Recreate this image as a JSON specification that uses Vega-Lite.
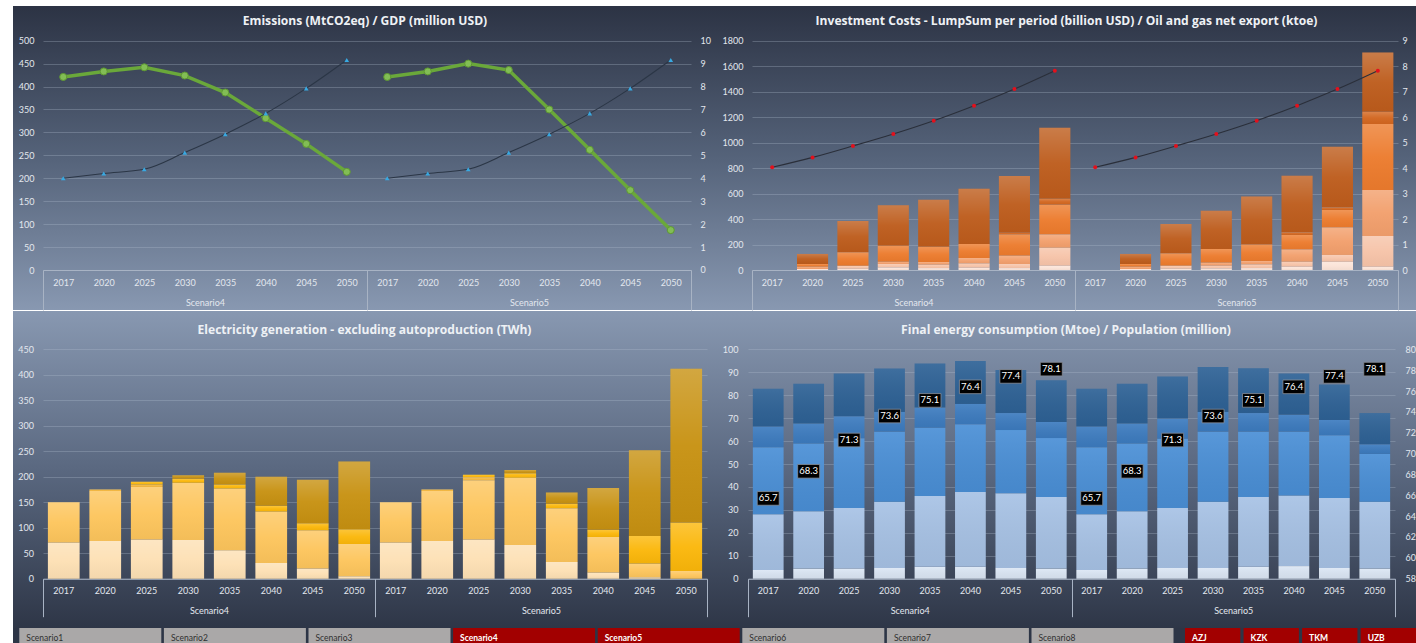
{
  "$schema": "https://vega.github.io/schema/vega-lite/v6.json",
  "background": "#ffffff",
  "padding": {"left": 13, "top": 6, "right": 0, "bottom": 0},
  "spacing": 0,
  "resolve": {"scale": {"color": "independent"}},
  "config": {
    "font": "Lato",
    "view": {"stroke": null},
    "axis": {"labelFont": "Lato", "labelFontSize": 9, "labelColor": "#e3e7ee", "title": null},
    "title": {"font": "Open Sans", "fontSize": 12.1, "fontWeight": "bold", "color": "#eef1f5"}
  },
  "datasets": {
    "emis": [
      {"k": "S4-2017", "s": "Scenario4", "em": 421, "gdp": 4.0},
      {"k": "S4-2020", "s": "Scenario4", "em": 433, "gdp": 4.21},
      {"k": "S4-2025", "s": "Scenario4", "em": 442, "gdp": 4.39},
      {"k": "S4-2030", "s": "Scenario4", "em": 424, "gdp": 5.12},
      {"k": "S4-2035", "s": "Scenario4", "em": 387, "gdp": 5.92},
      {"k": "S4-2040", "s": "Scenario4", "em": 331, "gdp": 6.83},
      {"k": "S4-2045", "s": "Scenario4", "em": 275, "gdp": 7.92},
      {"k": "S4-2050", "s": "Scenario4", "em": 214, "gdp": 9.16},
      {"k": "S5-2017", "s": "Scenario5", "em": 421, "gdp": 4.0},
      {"k": "S5-2020", "s": "Scenario5", "em": 433, "gdp": 4.21},
      {"k": "S5-2025", "s": "Scenario5", "em": 450, "gdp": 4.39},
      {"k": "S5-2030", "s": "Scenario5", "em": 436, "gdp": 5.12},
      {"k": "S5-2035", "s": "Scenario5", "em": 350, "gdp": 5.92},
      {"k": "S5-2040", "s": "Scenario5", "em": 262, "gdp": 6.83},
      {"k": "S5-2045", "s": "Scenario5", "em": 174, "gdp": 7.92},
      {"k": "S5-2050", "s": "Scenario5", "em": 87, "gdp": 9.16}
    ],
    "oil": [
      {"k": "S4-2017", "s": "Scenario4", "oil": 4.03},
      {"k": "S4-2020", "s": "Scenario4", "oil": 4.42},
      {"k": "S4-2025", "s": "Scenario4", "oil": 4.87},
      {"k": "S4-2030", "s": "Scenario4", "oil": 5.34},
      {"k": "S4-2035", "s": "Scenario4", "oil": 5.86},
      {"k": "S4-2040", "s": "Scenario4", "oil": 6.45},
      {"k": "S4-2045", "s": "Scenario4", "oil": 7.10},
      {"k": "S4-2050", "s": "Scenario4", "oil": 7.82},
      {"k": "S5-2017", "s": "Scenario5", "oil": 4.03},
      {"k": "S5-2020", "s": "Scenario5", "oil": 4.42},
      {"k": "S5-2025", "s": "Scenario5", "oil": 4.87},
      {"k": "S5-2030", "s": "Scenario5", "oil": 5.34},
      {"k": "S5-2035", "s": "Scenario5", "oil": 5.86},
      {"k": "S5-2040", "s": "Scenario5", "oil": 6.45},
      {"k": "S5-2045", "s": "Scenario5", "oil": 7.10},
      {"k": "S5-2050", "s": "Scenario5", "oil": 7.82}
    ],
    "pop": [
      {"k": "S4-2017", "pop": 65.7}, {"k": "S4-2020", "pop": 68.3}, {"k": "S4-2025", "pop": 71.3}, {"k": "S4-2030", "pop": 73.6},
      {"k": "S4-2035", "pop": 75.1}, {"k": "S4-2040", "pop": 76.4}, {"k": "S4-2045", "pop": 77.4}, {"k": "S4-2050", "pop": 78.1},
      {"k": "S5-2017", "pop": 65.7}, {"k": "S5-2020", "pop": 68.3}, {"k": "S5-2025", "pop": 71.3}, {"k": "S5-2030", "pop": 73.6},
      {"k": "S5-2035", "pop": 75.1}, {"k": "S5-2040", "pop": 76.4}, {"k": "S5-2045", "pop": 77.4}, {"k": "S5-2050", "pop": 78.1}
    ],
    "scen": [{"s": "Scenario4"}, {"s": "Scenario5"}],
    "inv": [
      {"k": "S4-2017", "g": "a", "v": 0},
      {"k": "S4-2020", "g": "a", "v": 8}, {"k": "S4-2020", "g": "c", "v": 18}, {"k": "S4-2020", "g": "d", "v": 21}, {"k": "S4-2020", "g": "f", "v": 79},
      {"k": "S4-2025", "g": "a", "v": 10}, {"k": "S4-2025", "g": "b", "v": 24}, {"k": "S4-2025", "g": "d", "v": 105}, {"k": "S4-2025", "g": "f", "v": 246},
      {"k": "S4-2030", "g": "a", "v": 20}, {"k": "S4-2030", "g": "b", "v": 27}, {"k": "S4-2030", "g": "c", "v": 18}, {"k": "S4-2030", "g": "d", "v": 126}, {"k": "S4-2030", "g": "f", "v": 317},
      {"k": "S4-2035", "g": "a", "v": 15}, {"k": "S4-2035", "g": "b", "v": 27}, {"k": "S4-2035", "g": "c", "v": 21}, {"k": "S4-2035", "g": "d", "v": 120}, {"k": "S4-2035", "g": "f", "v": 369},
      {"k": "S4-2040", "g": "a", "v": 18}, {"k": "S4-2040", "g": "b", "v": 34}, {"k": "S4-2040", "g": "c", "v": 42}, {"k": "S4-2040", "g": "d", "v": 110}, {"k": "S4-2040", "g": "f", "v": 434},
      {"k": "S4-2045", "g": "a", "v": 15}, {"k": "S4-2045", "g": "b", "v": 32}, {"k": "S4-2045", "g": "c", "v": 66}, {"k": "S4-2045", "g": "d", "v": 167}, {"k": "S4-2045", "g": "e", "v": 13}, {"k": "S4-2045", "g": "f", "v": 445},
      {"k": "S4-2050", "g": "a", "v": 34}, {"k": "S4-2050", "g": "b", "v": 141}, {"k": "S4-2050", "g": "c", "v": 105}, {"k": "S4-2050", "g": "d", "v": 233}, {"k": "S4-2050", "g": "e", "v": 47}, {"k": "S4-2050", "g": "f", "v": 557},
      {"k": "S5-2017", "g": "a", "v": 0},
      {"k": "S5-2020", "g": "a", "v": 8}, {"k": "S5-2020", "g": "c", "v": 18}, {"k": "S5-2020", "g": "d", "v": 21}, {"k": "S5-2020", "g": "f", "v": 79},
      {"k": "S5-2025", "g": "a", "v": 10}, {"k": "S5-2025", "g": "b", "v": 24}, {"k": "S5-2025", "g": "d", "v": 97}, {"k": "S5-2025", "g": "f", "v": 230},
      {"k": "S5-2030", "g": "a", "v": 12}, {"k": "S5-2030", "g": "b", "v": 22}, {"k": "S5-2030", "g": "c", "v": 24}, {"k": "S5-2030", "g": "d", "v": 107}, {"k": "S5-2030", "g": "f", "v": 301},
      {"k": "S5-2035", "g": "a", "v": 15}, {"k": "S5-2035", "g": "b", "v": 29}, {"k": "S5-2035", "g": "c", "v": 27}, {"k": "S5-2035", "g": "d", "v": 130}, {"k": "S5-2035", "g": "f", "v": 375},
      {"k": "S5-2040", "g": "a", "v": 26}, {"k": "S5-2040", "g": "b", "v": 39}, {"k": "S5-2040", "g": "c", "v": 97}, {"k": "S5-2040", "g": "d", "v": 113}, {"k": "S5-2040", "g": "e", "v": 21}, {"k": "S5-2040", "g": "f", "v": 444},
      {"k": "S5-2045", "g": "a", "v": 65}, {"k": "S5-2045", "g": "b", "v": 53}, {"k": "S5-2045", "g": "c", "v": 217}, {"k": "S5-2045", "g": "d", "v": 136}, {"k": "S5-2045", "g": "e", "v": 21}, {"k": "S5-2045", "g": "f", "v": 476},
      {"k": "S5-2050", "g": "a", "v": 26}, {"k": "S5-2050", "g": "b", "v": 241}, {"k": "S5-2050", "g": "c", "v": 361}, {"k": "S5-2050", "g": "d", "v": 518}, {"k": "S5-2050", "g": "e", "v": 97}, {"k": "S5-2050", "g": "f", "v": 465}
    ],
    "elec": [
      {"k": "S4-2017", "g": "p", "v": 71}, {"k": "S4-2017", "g": "q", "v": 79},
      {"k": "S4-2020", "g": "p", "v": 74}, {"k": "S4-2020", "g": "q", "v": 98}, {"k": "S4-2020", "g": "r", "v": 3},
      {"k": "S4-2025", "g": "p", "v": 77}, {"k": "S4-2025", "g": "q", "v": 103}, {"k": "S4-2025", "g": "r", "v": 5}, {"k": "S4-2025", "g": "s", "v": 5},
      {"k": "S4-2030", "g": "p", "v": 76}, {"k": "S4-2030", "g": "q", "v": 112}, {"k": "S4-2030", "g": "s", "v": 8}, {"k": "S4-2030", "g": "t", "v": 7},
      {"k": "S4-2035", "g": "p", "v": 56}, {"k": "S4-2035", "g": "q", "v": 121}, {"k": "S4-2035", "g": "s", "v": 8}, {"k": "S4-2035", "g": "t", "v": 23},
      {"k": "S4-2040", "g": "p", "v": 31}, {"k": "S4-2040", "g": "q", "v": 101}, {"k": "S4-2040", "g": "s", "v": 11}, {"k": "S4-2040", "g": "t", "v": 57},
      {"k": "S4-2045", "g": "p", "v": 20}, {"k": "S4-2045", "g": "q", "v": 75}, {"k": "S4-2045", "g": "s", "v": 14}, {"k": "S4-2045", "g": "t", "v": 85},
      {"k": "S4-2050", "g": "p", "v": 5}, {"k": "S4-2050", "g": "q", "v": 63}, {"k": "S4-2050", "g": "s", "v": 29}, {"k": "S4-2050", "g": "t", "v": 133},
      {"k": "S5-2017", "g": "p", "v": 71}, {"k": "S5-2017", "g": "q", "v": 79},
      {"k": "S5-2020", "g": "p", "v": 74}, {"k": "S5-2020", "g": "q", "v": 98}, {"k": "S5-2020", "g": "r", "v": 3},
      {"k": "S5-2025", "g": "p", "v": 77}, {"k": "S5-2025", "g": "q", "v": 116}, {"k": "S5-2025", "g": "r", "v": 6}, {"k": "S5-2025", "g": "s", "v": 5},
      {"k": "S5-2030", "g": "p", "v": 66}, {"k": "S5-2030", "g": "q", "v": 132}, {"k": "S5-2030", "g": "s", "v": 9}, {"k": "S5-2030", "g": "t", "v": 6},
      {"k": "S5-2035", "g": "p", "v": 33}, {"k": "S5-2035", "g": "q", "v": 105}, {"k": "S5-2035", "g": "s", "v": 9}, {"k": "S5-2035", "g": "t", "v": 22},
      {"k": "S5-2040", "g": "p", "v": 12}, {"k": "S5-2040", "g": "q", "v": 70}, {"k": "S5-2040", "g": "s", "v": 14}, {"k": "S5-2040", "g": "t", "v": 82},
      {"k": "S5-2045", "g": "p", "v": 3}, {"k": "S5-2045", "g": "q", "v": 27}, {"k": "S5-2045", "g": "s", "v": 54}, {"k": "S5-2045", "g": "t", "v": 168},
      {"k": "S5-2050", "g": "p", "v": 0}, {"k": "S5-2050", "g": "q", "v": 15}, {"k": "S5-2050", "g": "s", "v": 95}, {"k": "S5-2050", "g": "t", "v": 302}
    ],
    "fec": [
      {"k": "S4-2017", "g": "u", "v": 3.8}, {"k": "S4-2017", "g": "v", "v": 24.3}, {"k": "S4-2017", "g": "w", "v": 29.2}, {"k": "S4-2017", "g": "x", "v": 9.1}, {"k": "S4-2017", "g": "z", "v": 16.4},
      {"k": "S4-2020", "g": "u", "v": 4.4}, {"k": "S4-2020", "g": "v", "v": 25.0}, {"k": "S4-2020", "g": "w", "v": 29.5}, {"k": "S4-2020", "g": "x", "v": 8.8}, {"k": "S4-2020", "g": "z", "v": 17.3},
      {"k": "S4-2025", "g": "u", "v": 4.4}, {"k": "S4-2025", "g": "v", "v": 26.4}, {"k": "S4-2025", "g": "w", "v": 30.4}, {"k": "S4-2025", "g": "x", "v": 9.6}, {"k": "S4-2025", "g": "z", "v": 18.7},
      {"k": "S4-2030", "g": "u", "v": 4.7}, {"k": "S4-2030", "g": "v", "v": 28.9}, {"k": "S4-2030", "g": "w", "v": 30.5}, {"k": "S4-2030", "g": "x", "v": 8.6}, {"k": "S4-2030", "g": "z", "v": 18.9},
      {"k": "S4-2035", "g": "u", "v": 5.2}, {"k": "S4-2035", "g": "v", "v": 30.8}, {"k": "S4-2035", "g": "w", "v": 29.8}, {"k": "S4-2035", "g": "x", "v": 8.8}, {"k": "S4-2035", "g": "z", "v": 19.2},
      {"k": "S4-2040", "g": "u", "v": 5.2}, {"k": "S4-2040", "g": "v", "v": 32.6}, {"k": "S4-2040", "g": "w", "v": 29.5}, {"k": "S4-2040", "g": "x", "v": 8.9}, {"k": "S4-2040", "g": "z", "v": 18.7},
      {"k": "S4-2045", "g": "u", "v": 4.7}, {"k": "S4-2045", "g": "v", "v": 32.5}, {"k": "S4-2045", "g": "w", "v": 27.6}, {"k": "S4-2045", "g": "x", "v": 7.4}, {"k": "S4-2045", "g": "z", "v": 18.8},
      {"k": "S4-2050", "g": "u", "v": 4.4}, {"k": "S4-2050", "g": "v", "v": 31.2}, {"k": "S4-2050", "g": "w", "v": 25.7}, {"k": "S4-2050", "g": "x", "v": 7.0}, {"k": "S4-2050", "g": "z", "v": 18.2},
      {"k": "S5-2017", "g": "u", "v": 3.8}, {"k": "S5-2017", "g": "v", "v": 24.3}, {"k": "S5-2017", "g": "w", "v": 29.2}, {"k": "S5-2017", "g": "x", "v": 9.1}, {"k": "S5-2017", "g": "z", "v": 16.4},
      {"k": "S5-2020", "g": "u", "v": 4.4}, {"k": "S5-2020", "g": "v", "v": 25.0}, {"k": "S5-2020", "g": "w", "v": 29.5}, {"k": "S5-2020", "g": "x", "v": 8.8}, {"k": "S5-2020", "g": "z", "v": 17.3},
      {"k": "S5-2025", "g": "u", "v": 4.7}, {"k": "S5-2025", "g": "v", "v": 26.1}, {"k": "S5-2025", "g": "w", "v": 30.2}, {"k": "S5-2025", "g": "x", "v": 8.8}, {"k": "S5-2025", "g": "z", "v": 18.3},
      {"k": "S5-2030", "g": "u", "v": 4.7}, {"k": "S5-2030", "g": "v", "v": 28.9}, {"k": "S5-2030", "g": "w", "v": 30.5}, {"k": "S5-2030", "g": "x", "v": 8.6}, {"k": "S5-2030", "g": "z", "v": 19.6},
      {"k": "S5-2035", "g": "u", "v": 5.2}, {"k": "S5-2035", "g": "v", "v": 30.4}, {"k": "S5-2035", "g": "w", "v": 28.5}, {"k": "S5-2035", "g": "x", "v": 8.1}, {"k": "S5-2035", "g": "z", "v": 19.5},
      {"k": "S5-2040", "g": "u", "v": 5.5}, {"k": "S5-2040", "g": "v", "v": 30.8}, {"k": "S5-2040", "g": "w", "v": 27.8}, {"k": "S5-2040", "g": "x", "v": 7.4}, {"k": "S5-2040", "g": "z", "v": 17.9},
      {"k": "S5-2045", "g": "u", "v": 4.7}, {"k": "S5-2045", "g": "v", "v": 30.5}, {"k": "S5-2045", "g": "w", "v": 27.3}, {"k": "S5-2045", "g": "x", "v": 6.7}, {"k": "S5-2045", "g": "z", "v": 15.5},
      {"k": "S5-2050", "g": "u", "v": 4.4}, {"k": "S5-2050", "g": "v", "v": 29.2}, {"k": "S5-2050", "g": "w", "v": 20.8}, {"k": "S5-2050", "g": "x", "v": 4.2}, {"k": "S5-2050", "g": "z", "v": 13.6}
    ],
    "btnS": [
      {"name": "Scenario1", "on": "no"}, {"name": "Scenario2", "on": "no"}, {"name": "Scenario3", "on": "no"}, {"name": "Scenario4", "on": "yes"},
      {"name": "Scenario5", "on": "yes"}, {"name": "Scenario6", "on": "no"}, {"name": "Scenario7", "on": "no"}, {"name": "Scenario8", "on": "no"}
    ],
    "btnC": [
      {"name": "AZJ", "on": "yes"}, {"name": "KZK", "on": "yes"}, {"name": "TKM", "on": "yes"}, {"name": "UZB", "on": "yes"}
    ]
  },
  "vconcat": [
    {
      "spacing": 0,
      "bounds": "flush",
      "resolve": {"scale": {"color": "independent"}},
      "hconcat": [
        {
          "width": 704,
          "height": 304,
          "view": {"stroke": null, "fill": {"gradient": "linear", "x1": 0, "y1": 0, "x2": 0, "y2": 1, "stops": [{"offset": 0, "color": "#2c3344"}, {"offset": 0.5, "color": "#55637a"}, {"offset": 1, "color": "#8898b1"}]}},
          "title": {"text": "Emissions (MtCO2eq) / GDP (million USD)", "offset": -27, "baseline": "middle", "frame": "group", "anchor": "middle"},
          "layer": [
            {
              "data": {"name": "emis"},
              "mark": {"type": "line", "color": "#6aa83a", "strokeWidth": 3.5, "point": {"filled": true, "size": 50, "fill": "#82bd55", "stroke": "#5e9832", "strokeWidth": 1}},
              "encoding": {
                "x": {"field": "k", "type": "nominal", "scale": {"range": [30, 678], "paddingInner": 0.22, "paddingOuter": 0.11},
                      "axis": {"orient": "bottom", "offset": -40, "title": null, "labelExpr": "substring(datum.label, 3)", "labelAngle": 0, "ticks": false, "tickSize": 0, "domain": true, "domainColor": "#a8b3c4", "domainWidth": 1, "labelPadding": 8, "grid": false}},
                "y": {"field": "em", "type": "quantitative", "scale": {"domain": [-87.22, 575.67], "nice": false, "zero": false},
                      "axis": {"orient": "left", "offset": -21, "title": null, "format": "d", "values": [0, 50, 100, 150, 200, 250, 300, 350, 400, 450, 500], "ticks": false, "tickSize": 0, "labelPadding": 0, "domain": false, "grid": true, "gridColor": "#b4c0d2", "gridOpacity": 0.3, "gridWidth": 1}},
                "detail": {"field": "s"}
              }
            },
            {
              "data": {"name": "emis"},
              "mark": {"type": "line", "color": "#2b3646", "strokeWidth": 1.1, "interpolate": "monotone", "point": {"shape": "triangle-up", "filled": true, "size": 22, "color": "#38a9e2"}},
              "encoding": {
                "x": {"field": "k", "type": "nominal", "scale": {"range": [30, 678], "paddingInner": 0.22, "paddingOuter": 0.11}, "axis": null},
                "y": {"field": "gdp", "type": "quantitative", "scale": {"domain": [-1.7444, 11.513], "nice": false, "zero": false},
                      "axis": {"orient": "right", "offset": -17, "title": null, "format": "d", "values": [0, 1, 2, 3, 4, 5, 6, 7, 8, 9, 10], "ticks": false, "tickSize": 0, "labelPadding": 0, "domain": false, "grid": false}},
                "detail": {"field": "s"}
              }
            },
            {
              "data": {"name": "scen"},
              "mark": {"type": "point", "opacity": 0},
              "encoding": {
                "x": {"field": "s", "type": "nominal", "scale": {"range": [30, 678], "paddingInner": 0, "paddingOuter": 0},
                      "axis": {"orient": "bottom", "offset": -40, "title": null, "labelAngle": 0, "domain": false, "ticks": true, "tickBand": "extent", "tickSize": 40, "tickColor": "#a8b3c4", "tickWidth": 1, "labelPadding": -11.5, "grid": false}}
              }
            }
          ],
          "resolve": {"scale": {"x": "independent", "y": "independent"}, "axis": {"x": "independent", "y": "independent"}}
        },
        {
          "width": 699,
          "height": 304,
          "view": {"stroke": null, "fill": {"gradient": "linear", "x1": 0, "y1": 0, "x2": 0, "y2": 1, "stops": [{"offset": 0, "color": "#2c3344"}, {"offset": 0.5, "color": "#55637a"}, {"offset": 1, "color": "#8898b1"}]}},
          "title": {"text": "Investment Costs - LumpSum per period (billion USD) / Oil and gas net export (ktoe)", "offset": -27, "baseline": "middle", "frame": "group", "anchor": "middle"},
          "layer": [
            {
              "data": {"name": "inv"},
              "encoding": {
                "x": {"field": "k", "type": "nominal", "scale": {"range": [35, 681], "paddingInner": 0.23, "paddingOuter": 0.115},
                      "axis": {"orient": "bottom", "offset": -40, "title": null, "labelExpr": "substring(datum.label, 3)", "labelAngle": 0, "ticks": false, "tickSize": 0, "domain": true, "domainColor": "#a8b3c4", "domainWidth": 1, "labelPadding": 8, "grid": false}},
                "y": {"field": "v", "type": "quantitative", "stack": "zero", "scale": {"domain": [-314.0, 2072.4], "nice": false, "zero": false},
                      "axis": {"orient": "left", "offset": -26, "title": null, "format": "d", "values": [0, 200, 400, 600, 800, 1000, 1200, 1400, 1600, 1800], "ticks": false, "tickSize": 0, "labelPadding": 0, "domain": false, "grid": true, "gridColor": "#b4c0d2", "gridOpacity": 0.3, "gridWidth": 1}},
                "order": {"field": "g", "sort": "ascending"}
              },
              "layer": [
                {
                  "mark": {"type": "bar"},
                  "encoding": {"color": {"field": "g", "type": "nominal", "scale": {"domain": ["a", "b", "c", "d", "e", "f"], "range": ["#fbe3d7", "#f6c3a8", "#f29f6c", "#ec7b2d", "#d2661f", "#bd5c1c"]}, "legend": null}}
                },
                {
                  "mark": {"type": "bar", "fill": {"gradient": "linear", "x1": 0, "y1": 0, "x2": 0, "y2": 1, "stops": [{"offset": 0, "color": "rgba(255,255,255,0.2)"}, {"offset": 0.5, "color": "rgba(255,255,255,0.04)"}, {"offset": 1, "color": "rgba(0,0,0,0.03)"}]}},
                  "encoding": {"detail": {"field": "g"}}
                }
              ]
            },
            {
              "data": {"name": "oil"},
              "mark": {"type": "line", "color": "#2a2f3a", "strokeWidth": 1.1, "interpolate": "monotone", "point": {"filled": true, "size": 16, "color": "#e3101c"}},
              "encoding": {
                "x": {"field": "k", "type": "nominal", "scale": {"range": [35, 681], "paddingInner": 0.23, "paddingOuter": 0.115}, "axis": null},
                "y": {"field": "oil", "type": "quantitative", "scale": {"domain": [-1.570, 10.362], "nice": false, "zero": false},
                      "axis": {"orient": "right", "offset": -14, "title": null, "format": "d", "values": [0, 1, 2, 3, 4, 5, 6, 7, 8, 9], "ticks": false, "tickSize": 0, "labelPadding": 0, "domain": false, "grid": false}},
                "detail": {"field": "s"}
              }
            },
            {
              "data": {"name": "scen"},
              "mark": {"type": "point", "opacity": 0},
              "encoding": {
                "x": {"field": "s", "type": "nominal", "scale": {"range": [35, 681], "paddingInner": 0, "paddingOuter": 0},
                      "axis": {"orient": "bottom", "offset": -40, "title": null, "labelAngle": 0, "domain": false, "ticks": true, "tickBand": "extent", "tickSize": 40, "tickColor": "#a8b3c4", "tickWidth": 1, "labelPadding": -11.5, "grid": false}}
              }
            }
          ],
          "resolve": {"scale": {"x": "independent", "y": "independent"}, "axis": {"x": "independent", "y": "independent"}}
        }
      ]
    },
    {
      "spacing": 0,
      "bounds": "flush",
      "resolve": {"scale": {"color": "independent"}},
      "hconcat": [
        {
          "width": 703,
          "height": 317,
          "view": {"stroke": null, "fill": {"gradient": "linear", "x1": 0, "y1": 0, "x2": 0, "y2": 1, "stops": [{"offset": 0, "color": "#8898b1"}, {"offset": 0.5, "color": "#5a6880"}, {"offset": 1, "color": "#2e3647"}]}},
          "title": {"text": "Electricity generation -  excluding autoproduction (TWh)", "offset": -31, "baseline": "middle", "frame": "group", "anchor": "middle"},
          "layer": [
            {
              "data": {"name": "elec"},
              "encoding": {
                "x": {"field": "k", "type": "nominal", "scale": {"range": [30, 694], "paddingInner": 0.236, "paddingOuter": 0.118},
                      "axis": {"orient": "bottom", "offset": -49.3, "title": null, "labelExpr": "substring(datum.label, 3)", "labelAngle": 0, "ticks": false, "tickSize": 0, "domain": true, "domainColor": "#a8b3c4", "domainWidth": 1, "labelPadding": 7.5, "grid": false}},
                "y": {"field": "v", "type": "quantitative", "stack": "zero", "scale": {"domain": [-96.7, 525.1], "nice": false, "zero": false},
                      "axis": {"orient": "left", "offset": -20.5, "title": null, "format": "d", "values": [0, 50, 100, 150, 200, 250, 300, 350, 400, 450], "ticks": false, "tickSize": 0, "labelPadding": 0, "domain": false, "grid": true, "gridColor": "#b4c0d2", "gridOpacity": 0.3, "gridWidth": 1}},
                "order": {"field": "g", "sort": "ascending"}
              },
              "layer": [
                {
                  "mark": {"type": "bar"},
                  "encoding": {"color": {"field": "g", "type": "nominal", "scale": {"domain": ["p", "q", "r", "s", "t"], "range": ["#fde0b4", "#fdc55c", "#f4b73e", "#fbb70a", "#c79111"]}, "legend": null}}
                },
                {
                  "mark": {"type": "bar", "fill": {"gradient": "linear", "x1": 0, "y1": 0, "x2": 0, "y2": 1, "stops": [{"offset": 0, "color": "rgba(255,255,255,0.2)"}, {"offset": 0.5, "color": "rgba(255,255,255,0.04)"}, {"offset": 1, "color": "rgba(0,0,0,0.04)"}]}},
                  "encoding": {"detail": {"field": "g"}}
                }
              ]
            },
            {
              "data": {"name": "scen"},
              "mark": {"type": "point", "opacity": 0},
              "encoding": {
                "x": {"field": "s", "type": "nominal", "scale": {"range": [30, 694], "paddingInner": 0, "paddingOuter": 0},
                      "axis": {"orient": "bottom", "offset": -49.3, "title": null, "labelAngle": 0, "domain": false, "ticks": true, "tickBand": "extent", "tickSize": 38, "tickColor": "#a8b3c4", "tickWidth": 1, "labelPadding": -10.5, "grid": false}}
              }
            }
          ],
          "resolve": {"scale": {"x": "independent", "y": "independent"}, "axis": {"x": "independent", "y": "independent"}}
        },
        {
          "width": 700,
          "height": 317,
          "view": {"stroke": null, "fill": {"gradient": "linear", "x1": 0, "y1": 0, "x2": 0, "y2": 1, "stops": [{"offset": 0, "color": "#8898b1"}, {"offset": 0.5, "color": "#5a6880"}, {"offset": 1, "color": "#2e3647"}]}},
          "title": {"text": "Final energy consumption (Mtoe) / Population (million)", "offset": -31, "baseline": "middle", "frame": "group", "anchor": "middle"},
          "layer": [
            {
              "data": {"name": "fec"},
              "encoding": {
                "x": {"field": "k", "type": "nominal", "scale": {"range": [32, 679], "paddingInner": 0.24, "paddingOuter": 0.12},
                      "axis": {"orient": "bottom", "offset": -49.3, "title": null, "labelExpr": "substring(datum.label, 3)", "labelAngle": 0, "ticks": false, "tickSize": 0, "domain": true, "domainColor": "#a8b3c4", "domainWidth": 1, "labelPadding": 7.5, "grid": false}},
                "y": {"field": "v", "type": "quantitative", "stack": "zero", "scale": {"domain": [-21.49, 116.70], "nice": false, "zero": false},
                      "axis": {"orient": "left", "offset": -22, "title": null, "format": "d", "values": [0, 10, 20, 30, 40, 50, 60, 70, 80, 90, 100], "ticks": false, "tickSize": 0, "labelPadding": 0, "domain": false, "grid": true, "gridColor": "#b4c0d2", "gridOpacity": 0.3, "gridWidth": 1}},
                "order": {"field": "g", "sort": "ascending"}
              },
              "layer": [
                {
                  "mark": {"type": "bar"},
                  "encoding": {"color": {"field": "g", "type": "nominal", "scale": {"domain": ["u", "v", "w", "x", "z"], "range": ["#dce7f5", "#a7c2e5", "#4a8fd6", "#3d7cc0", "#2e6296"]}, "legend": null}}
                },
                {
                  "mark": {"type": "bar", "fill": {"gradient": "linear", "x1": 0, "y1": 0, "x2": 0, "y2": 1, "stops": [{"offset": 0, "color": "rgba(255,255,255,0.08)"}, {"offset": 1, "color": "rgba(0,0,0,0.05)"}]}},
                  "encoding": {"detail": {"field": "g"}}
                }
              ]
            },
            {
              "data": {"name": "pop"},
              "encoding": {
                "x": {"field": "k", "type": "nominal", "scale": {"range": [32, 679], "paddingInner": 0.24, "paddingOuter": 0.12}, "axis": null},
                "y": {"field": "pop", "type": "quantitative", "scale": {"domain": [53.272, 83.673], "nice": false, "zero": false},
                      "axis": {"orient": "right", "offset": -11, "title": null, "format": "d", "values": [58, 60, 62, 64, 66, 68, 70, 72, 74, 76, 78, 80], "ticks": false, "tickSize": 0, "labelPadding": 0, "domain": false, "grid": false}}
              },
              "layer": [
                {"mark": {"type": "point", "shape": "M-1,-0.62H1V0.62H-1Z", "filled": true, "fill": "#000000", "stroke": "#8a8f98", "strokeWidth": 0.8, "size": 484, "opacity": 1}},
                {"mark": {"type": "text", "color": "#ffffff", "font": "Lato", "fontSize": 9.5}, "encoding": {"text": {"field": "pop", "type": "quantitative", "format": ".1f"}}}
              ]
            },
            {
              "data": {"name": "scen"},
              "mark": {"type": "point", "opacity": 0},
              "encoding": {
                "x": {"field": "s", "type": "nominal", "scale": {"range": [32, 679], "paddingInner": 0, "paddingOuter": 0},
                      "axis": {"orient": "bottom", "offset": -49.3, "title": null, "labelAngle": 0, "domain": false, "ticks": true, "tickBand": "extent", "tickSize": 38, "tickColor": "#a8b3c4", "tickWidth": 1, "labelPadding": -10.5, "grid": false}}
              }
            }
          ],
          "resolve": {"scale": {"x": "independent", "y": "independent"}, "axis": {"x": "independent", "y": "independent"}}
        }
      ]
    },
    {
      "spacing": 0,
      "bounds": "flush",
      "resolve": {"scale": {"color": "independent"}},
      "hconcat": [
        {
          "width": 1167,
          "height": 16,
          "data": {"name": "btnS"},
          "view": {"stroke": null, "fill": "#2d3546"},
          "layer": [
            {
              "mark": {"type": "bar"},
              "encoding": {
                "x": {"field": "name", "type": "nominal", "scale": {"range": [6.3, 1160.5], "paddingInner": 0.018, "paddingOuter": 0}, "axis": null},
                "color": {"field": "on", "type": "nominal", "scale": {"domain": ["yes", "no"], "range": ["#a20000", "#aaa8a8"]}, "legend": null}
              }
            },
            {
              "transform": [{"filter": "datum.on == 'yes'"}],
              "mark": {"type": "text", "align": "left", "dx": 7, "dy": 2, "font": "Lato", "fontSize": 8.5, "fontWeight": "bold", "color": "#ffffff"},
              "encoding": {"x": {"field": "name", "type": "nominal", "bandPosition": 0}, "text": {"field": "name"}}
            },
            {
              "transform": [{"filter": "datum.on == 'no'"}],
              "mark": {"type": "text", "align": "left", "dx": 7, "dy": 2, "font": "Lato", "fontSize": 8.5, "color": "#303030"},
              "encoding": {"x": {"field": "name", "type": "nominal", "bandPosition": 0}, "text": {"field": "name"}}
            }
          ]
        },
        {
          "width": 236,
          "height": 16,
          "data": {"name": "btnC"},
          "view": {"stroke": null, "fill": "#2d3546"},
          "layer": [
            {
              "mark": {"type": "bar"},
              "encoding": {
                "x": {"field": "name", "type": "nominal", "scale": {"range": [5, 236], "paddingInner": 0.055, "paddingOuter": 0}, "axis": null},
                "color": {"field": "on", "type": "nominal", "scale": {"domain": ["yes", "no"], "range": ["#a20000", "#aaa8a8"]}, "legend": null}
              }
            },
            {
              "mark": {"type": "text", "align": "left", "dx": 7, "dy": 2, "font": "Lato", "fontSize": 8.5, "fontWeight": "bold", "color": "#ffffff"},
              "encoding": {"x": {"field": "name", "type": "nominal", "bandPosition": 0}, "text": {"field": "name"}}
            }
          ]
        }
      ]
    }
  ]
}
